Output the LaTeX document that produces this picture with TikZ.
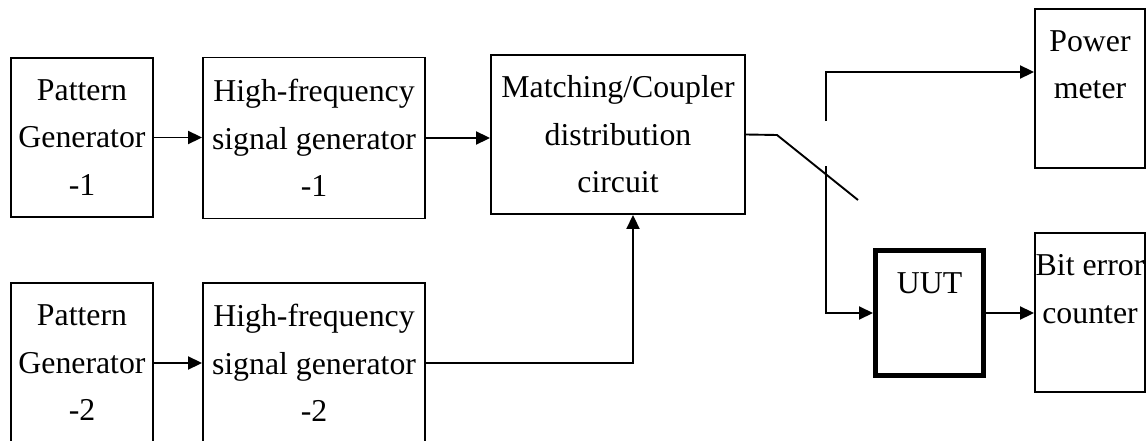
\documentclass[tikz,border=0pt]{standalone}
\usepackage{fontspec}
\setmainfont{Liberation Serif}
\usetikzlibrary{arrows.meta,calc}
\begin{document}
\begin{tikzpicture}[x=1pt,y=-1pt,
  txt/.style={font=\fontsize{31.8}{47.5}\selectfont,align=center,inner sep=0pt},
  box/.style={txt,draw,line width=1.9pt},
  thickbox/.style={draw,line width=5pt,inner sep=0pt},
  wire/.style={line width=1.9pt},
  conn/.style={wire,-{Triangle[length=14pt,width=13pt]}}]
\useasboundingbox (0,0) rectangle (1147,441);
\clip (0,0) rectangle (1147,441);
\fill[white] (0,0) rectangle (1147,441);
% nodes
\node[box,minimum width=142pt,minimum height=159pt] (pg1) at (82,137.5) {Pattern\\Generator\\-1};
\node[box,minimum width=222pt,minimum height=161pt] (hf1) at (314,138) {High-frequency\\signal generator\\-1};
\node[box,minimum width=254pt,minimum height=159pt] (mc) at (618,134.5) {Matching/Coupler\\distribution\\circuit};
\node[box,minimum width=142pt,minimum height=160pt] (pg2) at (82,363) {Pattern\\Generator\\-2};
\node[box,minimum width=222pt,minimum height=160pt] (hf2) at (314,363) {High-frequency\\signal generator\\-2};
\node[box,minimum width=110pt,minimum height=159pt] (pm) at (1090,88.5) {Power\\meter\\\mbox{}};
\node[box,minimum width=110pt,minimum height=159pt] (ber) at (1090,312.5) {Bit error\\counter\\\mbox{}};
\node[thickbox,minimum width=108pt,minimum height=125pt] (uut) at (929.5,313) {};
\node[txt] (uutlabel) at (929.5,283) {UUT};
% switch coordinates
\coordinate (sw1) at (777,135);
\coordinate (sw2) at (858,200);
\coordinate (pt) at (826,121);
\coordinate (ut) at (826,166);
% connectors
\draw[conn] (pg1.east) -- (pg1.east -| hf1.west);
\draw[conn] (hf1.east) -- (hf1.east -| mc.west);
\draw[conn] (pg2.east) -- (pg2.east -| hf2.west);
\draw[conn] (hf2.east) -| ($(mc.south)+(15,0)$);
\draw[wire] (mc.east) -- (sw1) -- (sw2);
\draw[conn] (pt) |- ($(pm.west)+(0,-16.5)$);
\draw[conn] (ut) |- (uut.west);
\draw[conn] (uut.east) -- (uut.east -| ber.west);
\end{tikzpicture}
\end{document}
